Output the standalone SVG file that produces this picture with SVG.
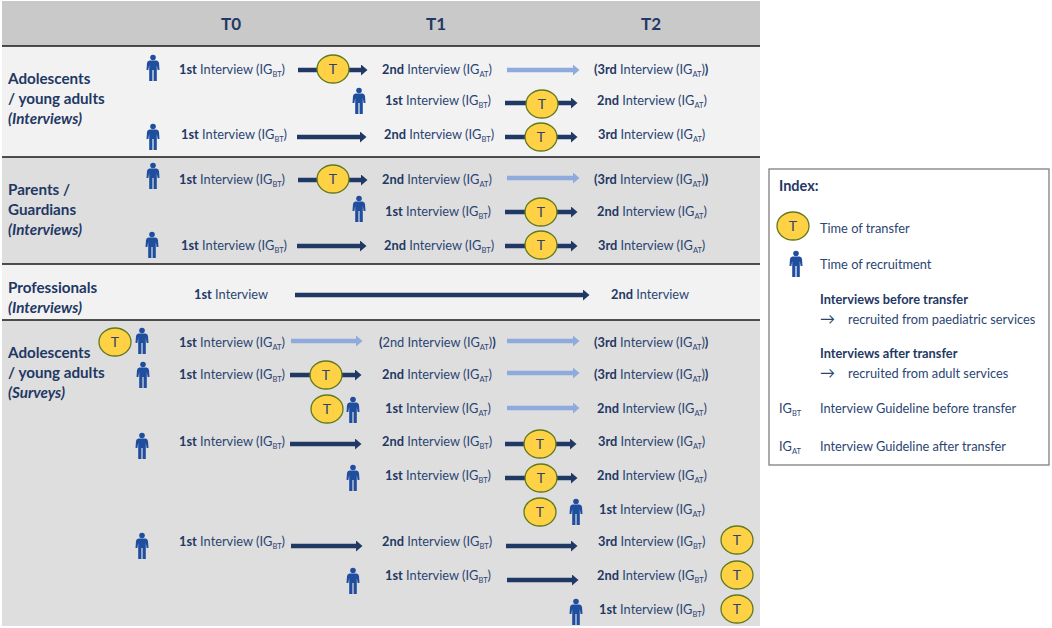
<svg xmlns="http://www.w3.org/2000/svg" width="1052" height="628" viewBox="0 0 1052 628">
<style>
text{font-family:"Lato","Liberation Sans",sans-serif;font-size:12.8px;fill:#2b4572}
.h{font-size:17px;font-weight:700;fill:#1f3864;text-anchor:middle}
.l{font-size:15.2px;font-weight:700;fill:#1f3864}
.i{font-style:italic}
.b{font-weight:700;fill:#1f3864}
.s{font-size:7.5px}
.d{stroke:#1f3864;stroke-width:4.5;fill:none;marker-end:url(#ad)}
.p{stroke:#8faadc;stroke-width:4.5;fill:none;marker-end:url(#ap)}
.sep{stroke:#1a1a1a;stroke-width:1.5}
.tt{fill:#ffd145;stroke:#5f7a1e;stroke-width:1.3}
.tl{font-size:14px;text-anchor:middle;fill:#2b4572}
.a{font-size:15px}
</style>
<defs>
<marker id="ad" markerUnits="userSpaceOnUse" markerWidth="7" markerHeight="11" refX="0" refY="5.5" orient="auto"><path d="M0 0L6.5 5.5L0 11Z" fill="#1f3864"/></marker>
<marker id="ap" markerUnits="userSpaceOnUse" markerWidth="7" markerHeight="11" refX="0" refY="5.5" orient="auto"><path d="M0 0L6.5 5.5L0 11Z" fill="#8faadc"/></marker>
<g id="person"><circle cx="0" cy="-10.5" r="2.8" fill="#1f4e9e"/><path d="M-3.5 -7.5H3.5Q5.5 -7.5 6 -5L6.5 2H4.6L3.8 -3V13H0.6V2H-0.6V13H-3.8V-3L-4.6 2H-6.5L-6 -5Q-5.5 -7.5 -3.5 -7.5Z" fill="#1f4e9e"/></g>
<g id="tn"><ellipse class="tt" cx="0" cy="0" rx="16" ry="14"/><text class="tl" x="0" y="5">T</text></g>
</defs>
<rect width="1052" height="628" fill="#fff"/>
<g id="bands">
<rect x="2" y="1" width="758" height="45" fill="#c9c9c9"/>
<rect x="2" y="46" width="758" height="111" fill="#f2f2f2"/>
<rect x="2" y="157" width="758" height="107" fill="#dedede"/>
<rect x="2" y="264" width="758" height="56" fill="#f2f2f2"/>
<rect x="2" y="320" width="758" height="306" fill="#dedede"/>
<path class="sep" d="M2 46H760M2 157H760M2 264H760M2 320H760"/>
</g>
<g id="headers"><text class="h" x="231" y="30">T0</text><text class="h" x="436" y="30">T1</text><text class="h" x="651" y="30">T2</text></g>
<g id="group-labels">
<text class="l" x="8" y="84">Adolescents</text><text class="l" x="8" y="104">/ young adults</text><text class="l i" x="8" y="124">(Interviews)</text>
<text class="l" x="8" y="195">Parents /</text><text class="l" x="8" y="215">Guardians</text><text class="l i" x="8" y="235">(Interviews)</text>
<text class="l" x="8" y="293">Professionals</text><text class="l i" x="8" y="313">(Interviews)</text>
<text class="l" x="8" y="358">Adolescents</text><text class="l" x="8" y="378">/ young adults</text><text class="l i" x="8" y="398">(Surveys)</text>
</g>
<g id="connectors">
<path class="d" d="M298 70H361"/><path class="p" d="M507 70H573"/>
<path class="d" d="M505 103H571"/>
<path class="d" d="M297 137H360"/><path class="d" d="M505 137H571"/>
<path class="d" d="M298 180H361"/><path class="p" d="M507 178H573"/>
<path class="d" d="M505 212H571"/>
<path class="d" d="M297 246H360"/><path class="d" d="M505 246H571"/>
<path class="d" d="M295 295H583"/>
<path class="p" d="M291 341H356"/><path class="p" d="M507 341H573"/>
<path class="d" d="M290 375H355"/><path class="p" d="M507 373H573"/>
<path class="p" d="M507 408H573"/>
<path class="d" d="M290 444H355"/><path class="d" d="M505 444H570"/>
<path class="d" d="M505 478H571"/>
<path class="d" d="M291 546H356"/><path class="d" d="M506 546H571"/>
<path class="d" d="M507 580H572"/>
</g>
<g id="transfers">
<use href="#tn" x="333" y="69"/><use href="#tn" x="542" y="104"/><use href="#tn" x="541" y="137"/>
<use href="#tn" x="333" y="179"/><use href="#tn" x="541" y="212"/><use href="#tn" x="541" y="245"/>
<use href="#tn" x="115" y="342"/><use href="#tn" x="326" y="375"/><use href="#tn" x="327" y="409"/>
<use href="#tn" x="540" y="444"/><use href="#tn" x="541" y="478"/><use href="#tn" x="540" y="512"/>
<use href="#tn" x="737" y="540"/><use href="#tn" x="737" y="575"/><use href="#tn" x="737" y="609"/>
</g>
<g id="recruitment">
<use href="#person" x="153" y="68"/><use href="#person" x="359" y="101"/><use href="#person" x="153" y="137"/>
<use href="#person" x="153" y="176"/><use href="#person" x="359" y="209"/><use href="#person" x="152" y="245"/>
<use href="#person" x="142" y="341"/><use href="#person" x="143" y="375"/><use href="#person" x="353" y="410"/>
<use href="#person" x="142" y="446"/><use href="#person" x="353" y="478"/><use href="#person" x="576" y="512"/>
<use href="#person" x="142" y="546"/><use href="#person" x="353" y="581"/><use href="#person" x="576" y="612"/>
</g>
<g id="interviews" transform="translate(0 1)">
<text x="179" y="73"><tspan class="b">1st</tspan> Interview (IG<tspan class="s" dy="3">BT</tspan><tspan dy="-3">)</tspan></text>
<text x="382" y="73"><tspan class="b">2nd</tspan> Interview (IG<tspan class="s" dy="3">AT</tspan><tspan dy="-3">)</tspan></text>
<text x="594" y="73"><tspan class="b">(3rd</tspan> Interview (IG<tspan class="s" dy="3">AT</tspan><tspan dy="-3">)</tspan><tspan class="b">)</tspan></text>
<text x="385" y="104"><tspan class="b">1st</tspan> Interview (IG<tspan class="s" dy="3">BT</tspan><tspan dy="-3">)</tspan></text>
<text x="597" y="104"><tspan class="b">2nd</tspan> Interview (IG<tspan class="s" dy="3">AT</tspan><tspan dy="-3">)</tspan></text>
<text x="181" y="138"><tspan class="b">1st</tspan> Interview (IG<tspan class="s" dy="3">BT</tspan><tspan dy="-3">)</tspan></text>
<text x="384" y="138"><tspan class="b">2nd</tspan> Interview (IG<tspan class="s" dy="3">BT</tspan><tspan dy="-3">)</tspan></text>
<text x="598" y="138"><tspan class="b">3rd</tspan> Interview (IG<tspan class="s" dy="3">AT</tspan><tspan dy="-3">)</tspan></text>
<text x="179" y="183"><tspan class="b">1st</tspan> Interview (IG<tspan class="s" dy="3">BT</tspan><tspan dy="-3">)</tspan></text>
<text x="382" y="183"><tspan class="b">2nd</tspan> Interview (IG<tspan class="s" dy="3">AT</tspan><tspan dy="-3">)</tspan></text>
<text x="594" y="183"><tspan class="b">(3rd</tspan> Interview (IG<tspan class="s" dy="3">AT</tspan><tspan dy="-3">)</tspan><tspan class="b">)</tspan></text>
<text x="385" y="215"><tspan class="b">1st</tspan> Interview (IG<tspan class="s" dy="3">BT</tspan><tspan dy="-3">)</tspan></text>
<text x="597" y="215"><tspan class="b">2nd</tspan> Interview (IG<tspan class="s" dy="3">AT</tspan><tspan dy="-3">)</tspan></text>
<text x="181" y="249"><tspan class="b">1st</tspan> Interview (IG<tspan class="s" dy="3">BT</tspan><tspan dy="-3">)</tspan></text>
<text x="384" y="249"><tspan class="b">2nd</tspan> Interview (IG<tspan class="s" dy="3">BT</tspan><tspan dy="-3">)</tspan></text>
<text x="598" y="249"><tspan class="b">3rd</tspan> Interview (IG<tspan class="s" dy="3">AT</tspan><tspan dy="-3">)</tspan></text>
<text x="194" y="298"><tspan class="b">1st</tspan> Interview</text>
<text x="611" y="298"><tspan class="b">2nd</tspan> Interview</text>
<text x="179" y="346"><tspan class="b">1st</tspan> Interview (IG<tspan class="s" dy="3">AT</tspan><tspan dy="-3">)</tspan></text>
<text x="379" y="346"><tspan class="b">(</tspan>2nd Interview (IG<tspan class="s" dy="3">AT</tspan><tspan dy="-3">)</tspan><tspan class="b">)</tspan></text>
<text x="594" y="346"><tspan class="b">(3rd</tspan> Interview (IG<tspan class="s" dy="3">AT</tspan><tspan dy="-3">)</tspan><tspan class="b">)</tspan></text>
<text x="179" y="378"><tspan class="b">1st</tspan> Interview (IG<tspan class="s" dy="3">BT</tspan><tspan dy="-3">)</tspan></text>
<text x="382" y="378"><tspan class="b">2nd</tspan> Interview (IG<tspan class="s" dy="3">AT</tspan><tspan dy="-3">)</tspan></text>
<text x="594" y="378"><tspan class="b">(3rd</tspan> Interview (IG<tspan class="s" dy="3">AT</tspan><tspan dy="-3">)</tspan><tspan class="b">)</tspan></text>
<text x="385" y="412"><tspan class="b">1st</tspan> Interview (IG<tspan class="s" dy="3">AT</tspan><tspan dy="-3">)</tspan></text>
<text x="597" y="412"><tspan class="b">2nd</tspan> Interview (IG<tspan class="s" dy="3">AT</tspan><tspan dy="-3">)</tspan></text>
<text x="179" y="445"><tspan class="b">1st</tspan> Interview (IG<tspan class="s" dy="3">BT</tspan><tspan dy="-3">)</tspan></text>
<text x="382" y="445"><tspan class="b">2nd</tspan> Interview (IG<tspan class="s" dy="3">BT</tspan><tspan dy="-3">)</tspan></text>
<text x="598" y="445"><tspan class="b">3rd</tspan> Interview (IG<tspan class="s" dy="3">AT</tspan><tspan dy="-3">)</tspan></text>
<text x="385" y="479"><tspan class="b">1st</tspan> Interview (IG<tspan class="s" dy="3">BT</tspan><tspan dy="-3">)</tspan></text>
<text x="597" y="479"><tspan class="b">2nd</tspan> Interview (IG<tspan class="s" dy="3">AT</tspan><tspan dy="-3">)</tspan></text>
<text x="599" y="513"><tspan class="b">1st</tspan> Interview (IG<tspan class="s" dy="3">AT</tspan><tspan dy="-3">)</tspan></text>
<text x="179" y="545"><tspan class="b">1st</tspan> Interview (IG<tspan class="s" dy="3">BT</tspan><tspan dy="-3">)</tspan></text>
<text x="382" y="545"><tspan class="b">2nd</tspan> Interview (IG<tspan class="s" dy="3">BT</tspan><tspan dy="-3">)</tspan></text>
<text x="598" y="545"><tspan class="b">3rd</tspan> Interview (IG<tspan class="s" dy="3">BT</tspan><tspan dy="-3">)</tspan></text>
<text x="385" y="579"><tspan class="b">1st</tspan> Interview (IG<tspan class="s" dy="3">BT</tspan><tspan dy="-3">)</tspan></text>
<text x="597" y="579"><tspan class="b">2nd</tspan> Interview (IG<tspan class="s" dy="3">BT</tspan><tspan dy="-3">)</tspan></text>
<text x="599" y="613"><tspan class="b">1st</tspan> Interview (IG<tspan class="s" dy="3">BT</tspan><tspan dy="-3">)</tspan></text>
</g>
<g id="index">
<rect x="769" y="169" width="280" height="296" fill="#fff" stroke="#7f7f7f" stroke-width="1.3"/>
<text class="l" x="779" y="191" style="font-size:14.5px">Index:</text>
<use href="#tn" x="793" y="226"/>
<text x="820" y="233">Time of transfer</text>
<use href="#person" x="796" y="264"/>
<text x="820" y="269">Time of recruitment</text>
<text class="b" x="820" y="304">Interviews before transfer</text>
<text class="a" x="820" y="324">→</text><text x="848" y="324">recruited from paediatric services</text>
<text class="b" x="820" y="358">Interviews after transfer</text>
<text class="a" x="820" y="378">→</text><text x="848" y="378">recruited from adult services</text>
<text x="779" y="413">IG<tspan class="s" dy="3">BT</tspan></text><text x="820" y="413">Interview Guideline before transfer</text>
<text x="779" y="451">IG<tspan class="s" dy="3">AT</tspan></text><text x="820" y="451">Interview Guideline after transfer</text>
</g>
</svg>
